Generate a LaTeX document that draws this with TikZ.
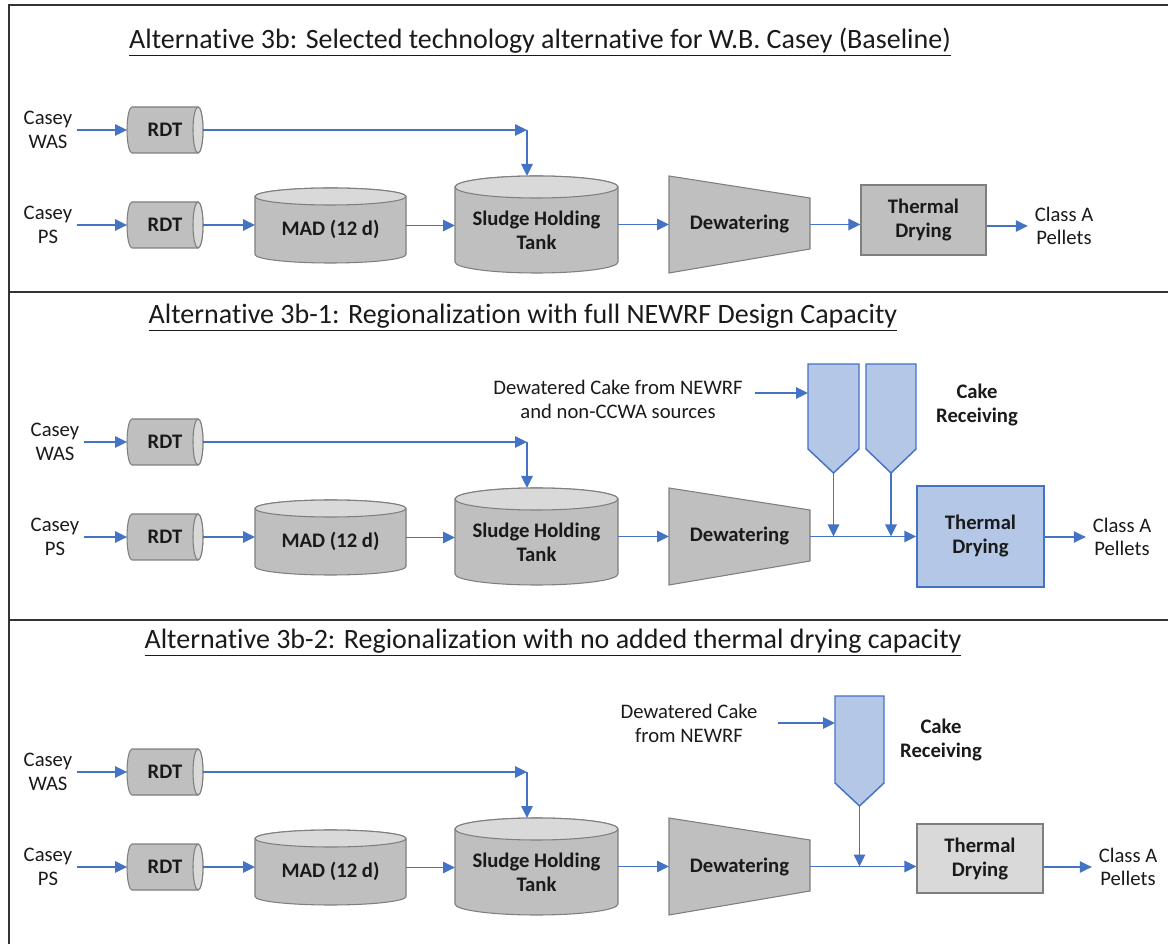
\documentclass[tikz,border=0pt]{standalone}
\usepackage{fontspec}
\setmainfont{Carlito}[Ligatures=NoCommon]
\usetikzlibrary{arrows.meta,calc}

\definecolor{flowblue}{HTML}{4472C4}
\definecolor{unitgray}{HTML}{BFBFBF}
\definecolor{facegray}{HTML}{D9D9D9}
\definecolor{edgegray}{HTML}{7F7F7F}
\definecolor{lightblue}{HTML}{B4C7E7}
\definecolor{framegray}{HTML}{333333}
\definecolor{inkgray}{HTML}{1A1A1A}

\tikzset{
  flow/.style={draw=flowblue, line width=1.3pt, -{Triangle[length=9pt,width=8.5pt]}},
  unit/.style={draw=edgegray, fill=unitgray, line width=0.8pt},
  bin/.style={draw=flowblue, fill=lightblue, line width=1.1pt},
  frameline/.style={draw=framegray, line width=1.6pt},
  slot/.style={draw=none, inner sep=0pt, outer sep=0pt},
  bold/.style={font=\bfseries\fontsize{15.5}{18}\selectfont, text=inkgray, align=center, inner sep=0pt},
  txt/.style={font=\fontsize{15.5}{17.5}\selectfont, text=inkgray, align=center, inner sep=0pt},
  heading/.style={font=\fontsize{21}{25}\selectfont, text=inkgray, inner sep=0pt},
}

% horizontal drum (rotary drum thickener): name, centre x, centre y
\newcommand\rdt[3]{%
  \draw[unit] (#2-33,#3-23) arc[start angle=-90, end angle=-270, x radius=5, y radius=23]
    -- (#2+33,#3+23) arc[start angle=90, end angle=-90, x radius=5, y radius=23] -- cycle;
  \draw[unit, fill=facegray] (#2+33,#3) ellipse[x radius=5, y radius=23];
  \node[slot, bold, minimum width=57pt, minimum height=34.5pt] (#1) at (#2,#3) {RDT};
}

% upright tank: name, cx, cy, half width, half height, cap radius, text, text drop
\newcommand\vcyl[8]{%
  \draw[unit] (#2-#4,#3-#5+#6) -- (#2-#4,#3+#5-#6)
    arc[start angle=180, end angle=0, x radius=#4, y radius=#6]
    -- (#2+#4,#3-#5+#6)
    arc[start angle=0, end angle=-180, x radius=#4, y radius=#6] -- cycle;
  \draw[unit, fill=facegray] (#2,#3-#5+#6) ellipse[x radius=#4, y radius=#6];
  \node[slot, minimum width={1.5*#4pt}, minimum height={1.5*#5pt}] (#1) at (#2,#3) {};
  \node[bold] (#1t) at (#2,#3+#8) {#7};
}

% cake receiving hopper: name, left x, right x, top y, shoulder y, tip y
\newcommand\hopper[6]{%
  \draw[bin] (#2,#4) -- (#3,#4) -- (#3,#5) -- ({(#2+#3)/2},#6) -- (#2,#5) -- cycle;
  \node[slot, minimum width={(#3-#2)*0.75pt}, minimum height={(#6-#4)*0.75pt}]
    (#1) at ({(#2+#3)/2},{(#4+#6)/2}) {};
}

% common train up to dewatering: suffix, vertical offset, inlet label x
\newcommand\chain[3]{%
  \node[txt] (wasL#1) at (#3,130+#2) {Casey\\WAS};
  \rdt{rdtW#1}{165}{130+#2}
  \node[txt] (psL#1) at (#3,225+#2) {Casey\\PS};
  \rdt{rdtP#1}{165}{225+#2}
  \vcyl{mad#1}{330.5}{225.5+#2}{75.5}{37.5}{8.5}{MAD (12 d)}{4}
  \vcyl{tank#1}{536.5}{224.5+#2}{81.5}{48.5}{11}{Sludge Holding\\Tank}{6}
  \draw[unit] (669,176+#2) -- (810,198+#2) -- (810,249+#2) -- (669,273+#2) -- cycle;
  \node[slot, bold, minimum width=105.75pt, minimum height=72.75pt] (dew#1) at (739.5,224.5+#2) {Dewatering};
  \coordinate (turn#1) at (527,130+#2);
  \draw[flow] ([xshift=3pt]wasL#1.east) -- (rdtW#1.west);
  \draw[flow] (rdtW#1.east) -- (turn#1);
  \draw[flow] (turn#1) -- (turn#1 |- tank#1.north);
  \draw[flow] ([xshift=3pt]psL#1.east) -- (rdtP#1.west);
  \draw[flow] (rdtP#1.east) -- (rdtP#1.east -| mad#1.west);
  \draw[flow] (mad#1.east) -- (mad#1.east -| tank#1.west);
  \draw[flow] (tank#1.east) -- (tank#1.east -| dew#1.west);
}

\begin{document}
\begin{tikzpicture}[x=0.75pt, y=-0.75pt]
\useasboundingbox (0,0) rectangle (1168,944);

% panel frame and dividers
\draw[frameline] (9,944) -- (9,5) -- (1168,5);
\draw[frameline] (9,292) -- (1168,292);
\draw[frameline] (9,620) -- (1168,620);

% ---- Alternative 3b ----
\node[heading] (head1) at (540,42) {\underline{Alternative 3b: Selected technology alternative for W.B. Casey (Baseline)}};
\chain{1}{0}{48}
\node[unit, bold, minimum width=93.75pt, minimum height=52.5pt] (dry1) at (923.5,220) {Thermal\\Drying};
\node[txt] (out1) at (1064,226) {Class A\\Pellets};
\draw[flow] (dew1.east) -- (dew1.east -| dry1.west);
\draw[flow] (dry1.east |- out1.west) -- ([xshift=-5pt]out1.west);

% ---- Alternative 3b-1 ----
\node[heading] (head2) at (523,318) {\underline{Alternative 3b-1: Regionalization with full NEWRF Design Capacity}};
\chain{2}{312}{55}
\hopper{hopA2}{808}{859}{364}{449}{473}
\hopper{hopB2}{866}{916}{364}{449}{473}
\node[bold] (cakeR2) at (977,405) {Cake\\Receiving};
\node[txt] (cake2) at (618,399.5) {Dewatered Cake from NEWRF\\and non-CCWA sources};
\coordinate (feed2) at (755,393);
\draw[flow] (feed2) -- (feed2 -| hopA2.west);
\node[bin, bold, minimum width=95.25pt, minimum height=75.75pt] (dry2) at (980.5,536.5) {Thermal\\Drying};
\node[txt] (out2) at (1122,537) {Class A\\Pellets};
\draw[flow] (dew2.east) -- (dew2.east -| dry2.west);
\draw[flow] (hopA2.south) -- (hopA2.south |- dew2.east);
\draw[flow] (hopB2.south) -- (hopB2.south |- dew2.east);
\draw[flow] (dry2.east |- out2.west) -- ([xshift=-5pt]out2.west);

% ---- Alternative 3b-2 ----
\node[heading] (head3) at (553,643) {\underline{Alternative 3b-2: Regionalization with no added thermal drying capacity}};
\chain{3}{642}{48}
\hopper{hop3}{835}{884}{696}{783}{806}
\node[bold] (cakeR3) at (941,740) {Cake\\Receiving};
\node[txt] (cake3) at (689,723.5) {Dewatered Cake\\from NEWRF};
\coordinate (feed3) at (778,723);
\draw[flow] (feed3) -- (feed3 -| hop3.west);
\node[unit, fill=facegray, bold, minimum width=94.5pt, minimum height=51.75pt] (dry3) at (980,858.5) {Thermal\\Drying};
\node[txt] (out3) at (1128,867) {Class A\\Pellets};
\draw[flow] (dew3.east) -- (dew3.east -| dry3.west);
\draw[flow] (hop3.south) -- (hop3.south |- dew3.east);
\draw[flow] (dry3.east |- out3.west) -- ([xshift=-5pt]out3.west);
\end{tikzpicture}
\end{document}
